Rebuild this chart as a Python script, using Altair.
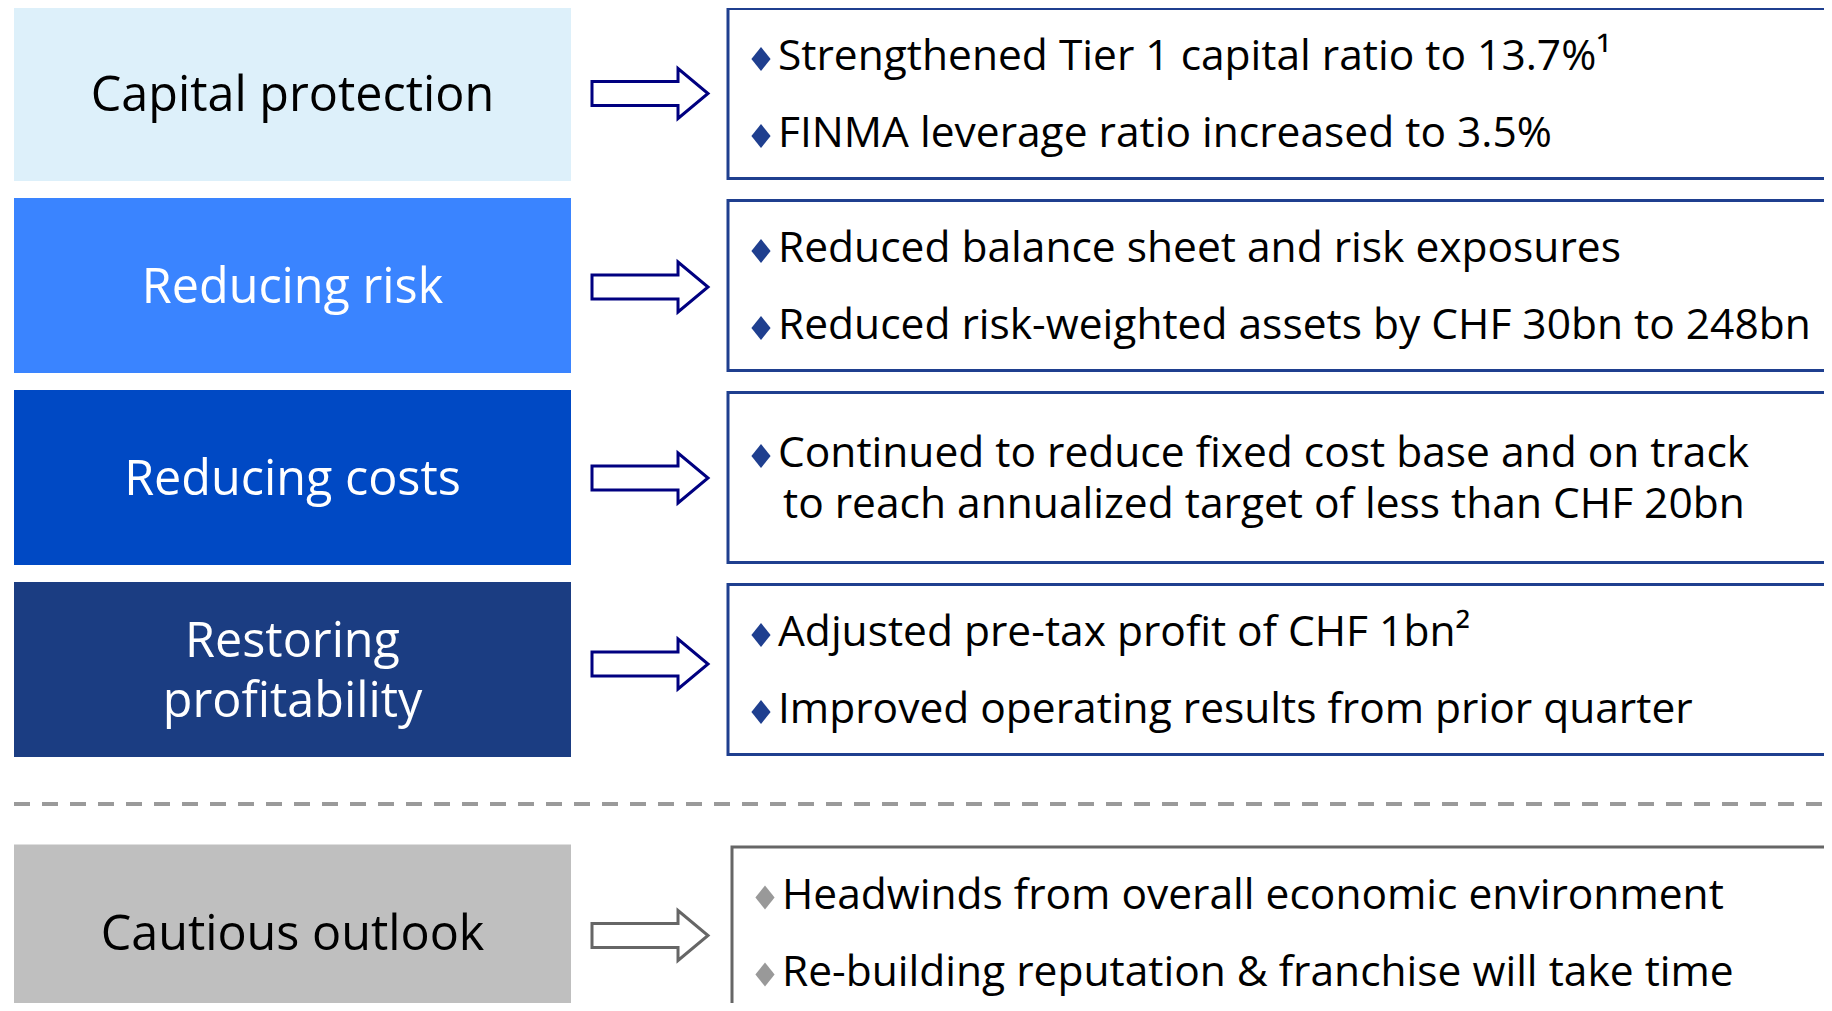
import altair as alt
import pandas as pd

# ---------------- data ----------------
categories = ["Capital protection", "Reducing risk", "Reducing costs",
              "Restoring profitability", "Cautious outlook"]
label_lines = [["Capital protection"], ["Reducing risk"], ["Reducing costs"],
               ["Restoring", "profitability"], ["Cautious outlook"]]
bullet_texts = [
    [["Strengthened Tier 1 capital ratio to 13.7%¹"],
     ["FINMA leverage ratio increased to 3.5%"]],
    [["Reduced balance sheet and risk exposures"],
     ["Reduced risk-weighted assets by CHF 30bn to 248bn"]],
    [["Continued to reduce fixed cost base and on track",
      "to reach annualized target of less than CHF 20bn"]],
    [["Adjusted pre-tax profit of CHF 1bn²"],
     ["Improved operating results from prior quarter"]],
    [["Headwinds from overall economic environment"],
     ["Re-building reputation & franchise will take time"]],
]
box_colors = ["#DDF0FA", "#3A84FF", "#0049C4", "#1B3D82", "#BFBFBF"]
label_colors = ["#000000", "#FFFFFF", "#FFFFFF", "#FFFFFF", "#000000"]
arrow_colors = ["#000080", "#000080", "#000080", "#000080", "#666666"]
border_colors = ["#1F3F8F", "#1F3F8F", "#1F3F8F", "#1F3F8F", "#666666"]
diamond_colors = ["#1F3F8F", "#1F3F8F", "#1F3F8F", "#1F3F8F", "#999999"]

# ---------------- layout (page pixel space) ----------------
W, H = 1816, 995
ROW_STEP = 192
row_center = [93.5 + ROW_STEP * i for i in range(4)] + [932.0]
arrow_y = [93.5, 287.0, 478.0, 664.0, 935.5]
LEFT_X0, LEFT_X1, LEFT_HALF = 14, 571, 87.5
RIGHT_X0 = [728, 728, 728, 728, 732]
RIGHT_X1 = 1880
RIGHT_HALF = 85
ARROW_X = 650
FONT = "Open Sans"

xs = alt.Scale(domain=[8, 8 + W], nice=False, zero=False)
ys = alt.Scale(domain=[8, 8 + H], nice=False, zero=False, reverse=True)


def X(f):
    return alt.X(f, type="quantitative", scale=xs, axis=None)


def Y(f):
    return alt.Y(f, type="quantitative", scale=ys, axis=None)


left_rows, label_rows, arrow_rows, right_rows, dia_rows, text_rows = [], [], [], [], [], []
for i, cat in enumerate(categories):
    c = row_center[i]
    left_rows.append(dict(x=LEFT_X0, x2=LEFT_X1, y=c - LEFT_HALF, y2=c + LEFT_HALF,
                          fill=box_colors[i], cat=cat))
    lines = label_lines[i]
    offs = [17.5] if len(lines) == 1 else [-12.5, 47.0]
    for ln, o in zip(lines, offs):
        label_rows.append(dict(x=(LEFT_X0 + LEFT_X1) / 2, y=c + o, text=ln,
                               color=label_colors[i]))
    arrow_rows.append(dict(x=ARROW_X, y=arrow_y[i], stroke=arrow_colors[i]))
    right_rows.append(dict(x=RIGHT_X0[i], x2=RIGHT_X1, y=c - RIGHT_HALF,
                           y2=c + RIGHT_HALF, stroke=border_colors[i]))
    flat = []
    for b, blines in enumerate(bullet_texts[i]):
        for k, t in enumerate(blines):
            flat.append((k == 0, t))
    spacing = 77 if len(bullet_texts[i]) > 1 else 51
    n = len(flat)
    for j, (first, t) in enumerate(flat):
        base = c - spacing * (n - 1) / 2 + spacing * j + 15
        tx = RIGHT_X0[i] + (50 if first else 55)
        text_rows.append(dict(x=tx, y=base, text=t))
        if first:
            dia_rows.append(dict(x=RIGHT_X0[i] + 33, y=base - 11,
                                 color=diamond_colors[i]))

left_df = pd.DataFrame(left_rows)
label_df = pd.DataFrame(label_rows)
arrow_df = pd.DataFrame(arrow_rows)
right_df = pd.DataFrame(right_rows)
dia_df = pd.DataFrame(dia_rows)
text_df = pd.DataFrame(text_rows)
dash_df = pd.DataFrame([dict(x=14, x2=1840, y=804)])

ARROW_PATH = "M-1,-0.207L0.483,-0.207L0.483,-0.431L1,0L0.483,0.431L0.483,0.207L-1,0.207Z"
DIAMOND_PATH = "M0,-1L0.8,0L0,1L-0.8,0Z"

left_boxes = alt.Chart(left_df).mark_rect().encode(
    x=X("x"), x2="x2", y=Y("y"), y2="y2",
    fill=alt.Fill("fill:N", scale=None))

labels = alt.Chart(label_df).mark_text(
    font=FONT, fontSize=48.5, align="center", baseline="alphabetic").encode(
    x=X("x"), y=Y("y"), text="text:N", color=alt.Color("color:N", scale=None))

arrows = alt.Chart(arrow_df).mark_point(
    shape=ARROW_PATH, size=116 * 116, fill="white", filled=False,
    strokeWidth=3, opacity=1, fillOpacity=1).encode(
    x=X("x"), y=Y("y"), stroke=alt.Stroke("stroke:N", scale=None))

right_boxes = alt.Chart(right_df).mark_rect(fill="white", strokeWidth=3).encode(
    x=X("x"), x2="x2", y=Y("y"), y2="y2",
    stroke=alt.Stroke("stroke:N", scale=None))

diamonds = alt.Chart(dia_df).mark_point(
    shape=DIAMOND_PATH, size=24 * 24, filled=True, opacity=1, strokeWidth=0).encode(
    x=X("x"), y=Y("y"), color=alt.Color("color:N", scale=None))

bullets = alt.Chart(text_df).mark_text(
    font=FONT, fontSize=42.5, align="left", baseline="alphabetic", color="#000000").encode(
    x=X("x"), y=Y("y"), text="text:N")

dash = alt.Chart(dash_df).mark_rule(
    strokeDash=[16, 12], strokeWidth=4, color="#9A9A9A").encode(
    x=X("x"), x2="x2", y=Y("y"))

chart = alt.layer(
    left_boxes, labels, arrows, right_boxes, diamonds, bullets, dash
).properties(
    width=W, height=H, padding=0, autosize="none", background="white"
).configure_view(strokeWidth=0)

chart.save("out.html", embed_options={"renderer": "svg", "actions": False})
